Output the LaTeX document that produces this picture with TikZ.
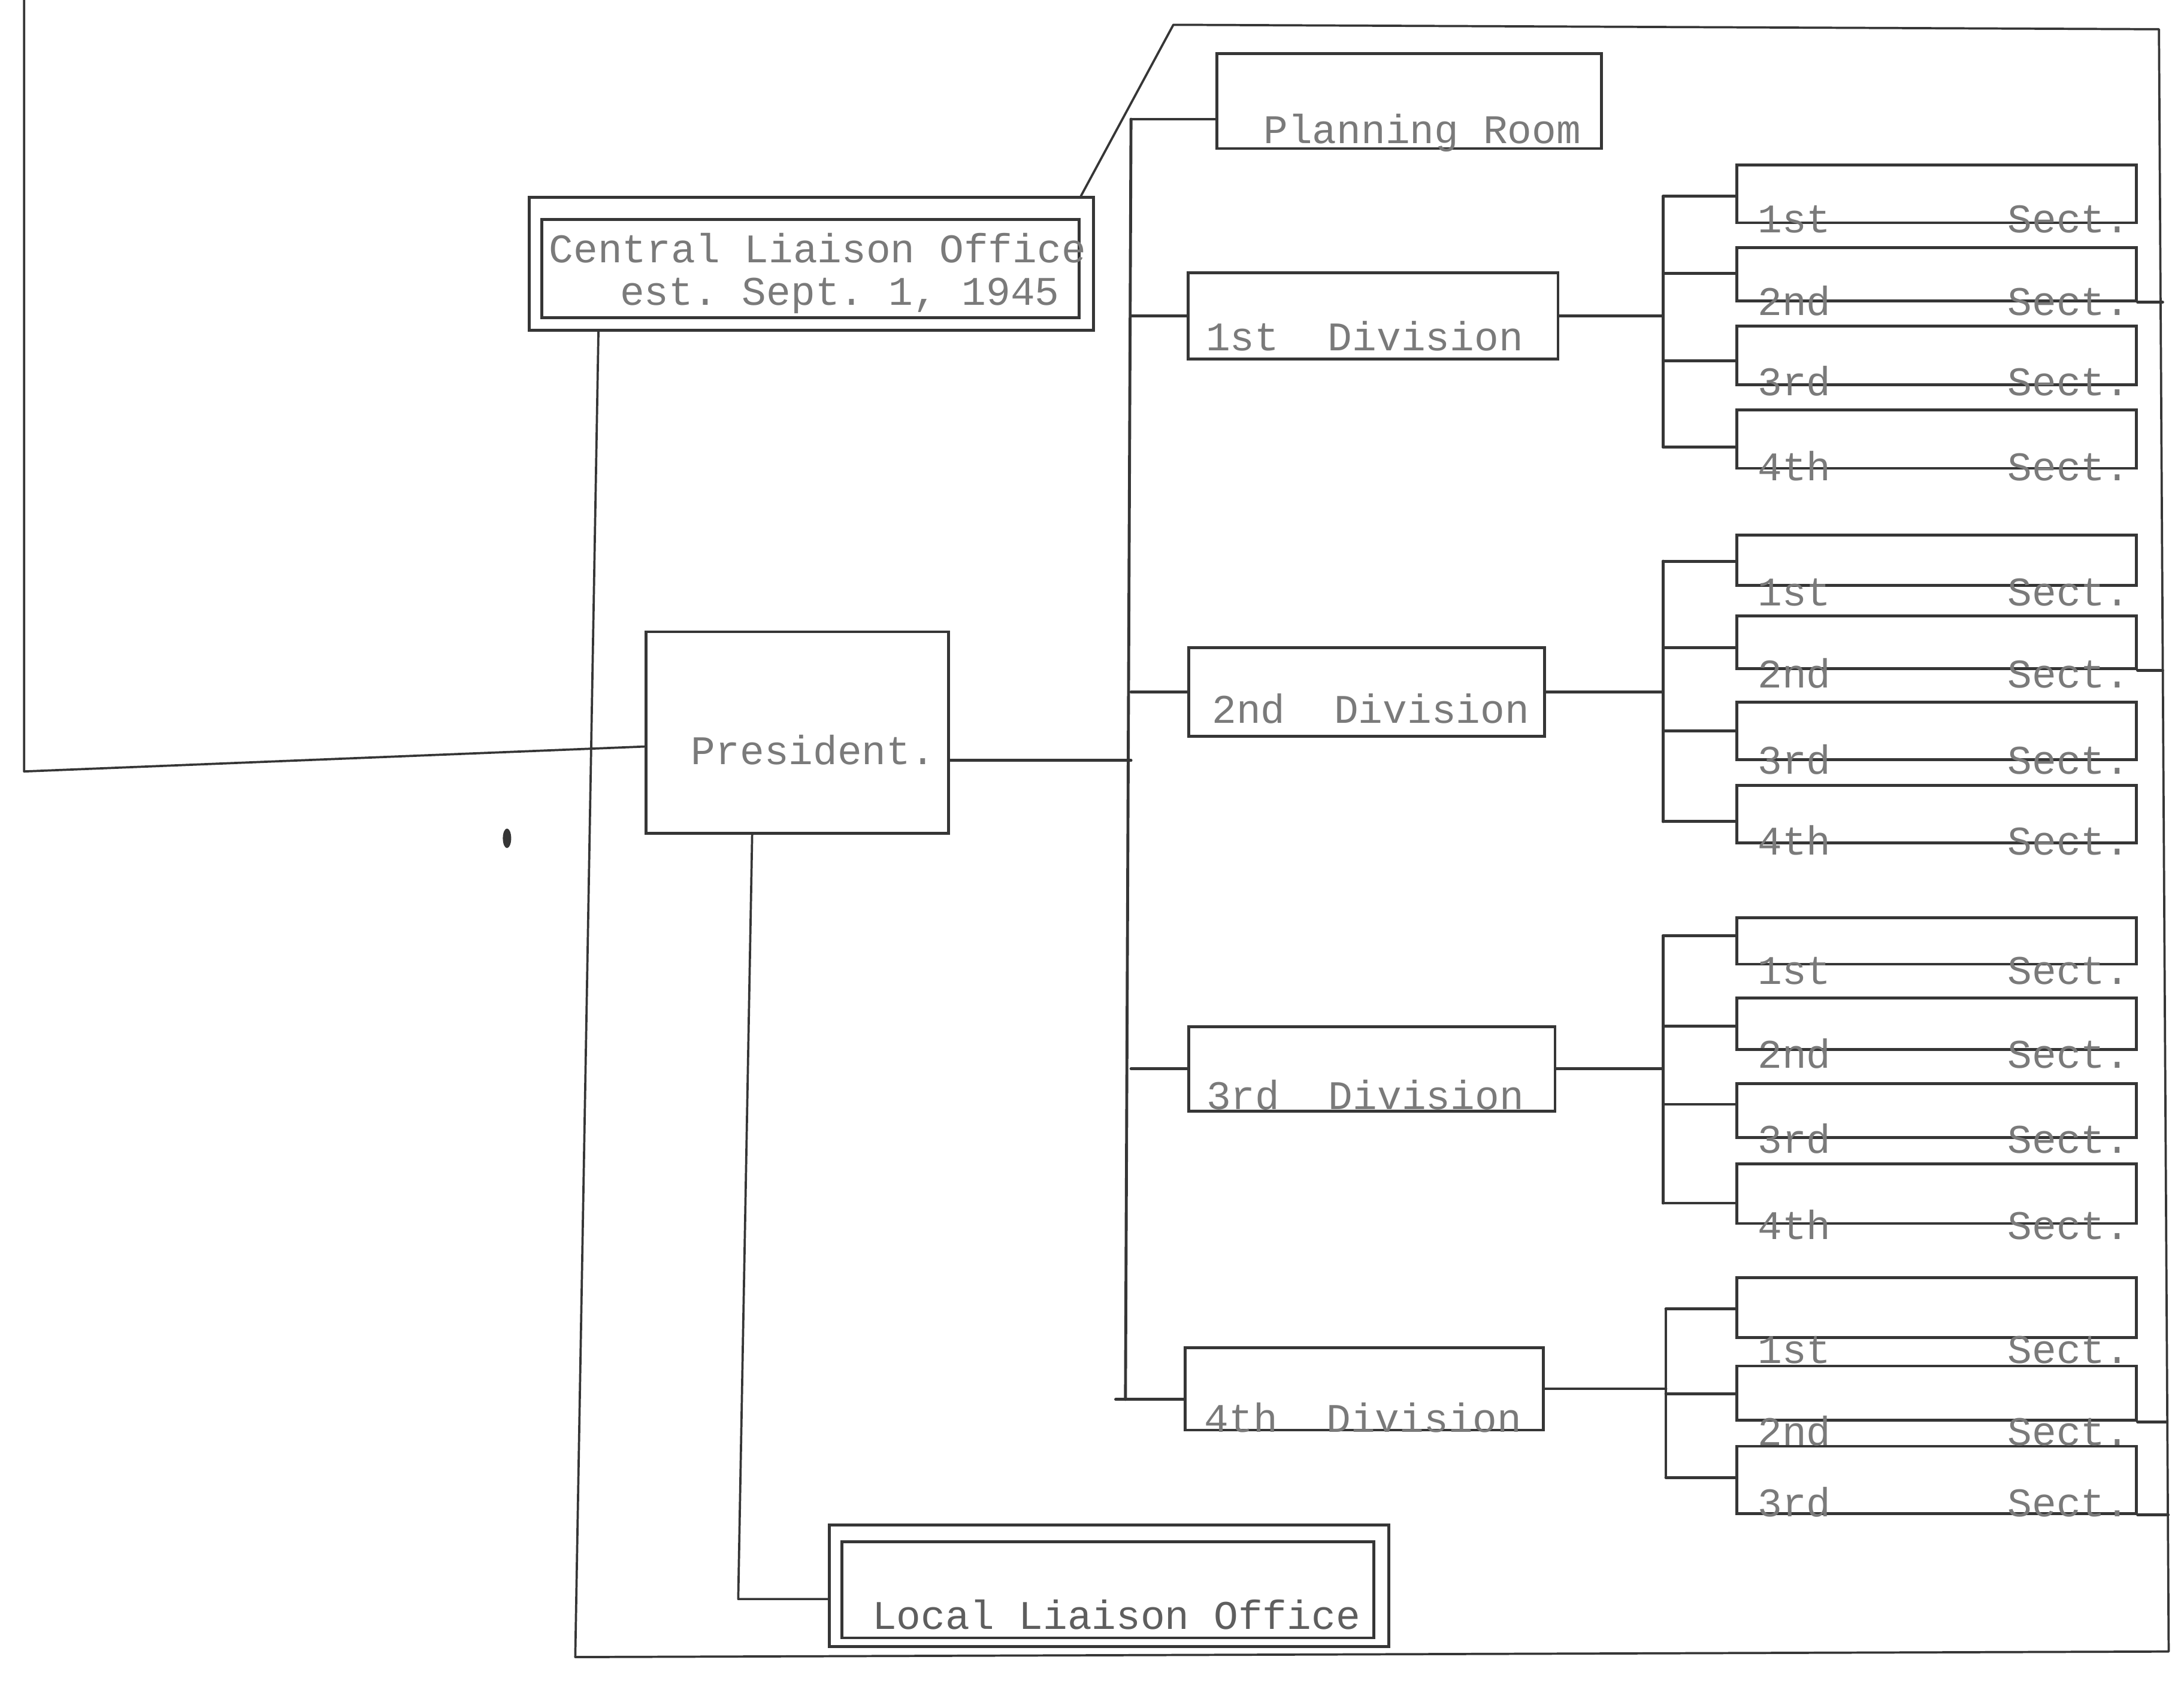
\documentclass[tikz,border=0pt]{standalone}
\usepackage{fontspec}
\setmonofont{Liberation Mono}
\usetikzlibrary{calc}
\definecolor{ink}{HTML}{363636}
\definecolor{typeink}{HTML}{7A7A7A}
\tikzset{
  ln/.style={draw=ink, line width=2.1pt, line cap=round, line join=round},
  bx/.style={draw=ink, line width=2.1pt, rectangle, inner sep=0pt},
  secbox/.style={bx, minimum width=286.6pt},
  tt/.style={text=typeink, font={\ttfamily\fontsize{29.2pt}{30.5pt}\selectfont}, inner sep=0pt},
  sectxt/.style={tt, anchor=base},
}
\newcommand{\secline}[1]{\makebox[267pt]{#1\hfill Sect.}}
\begin{document}
\begin{tikzpicture}[x=1pt,y=-1pt]
\useasboundingbox (0,0) rectangle (1568,1207);
\fill[white] (0,0) rectangle (1568,1207);

% ---------- Central Liaison Office ----------
\node[bx, minimum width=405pt, minimum height=95.2pt] (cloout) at (582.5,189.4) {};
\node[bx, minimum width=385.6pt, minimum height=70.4pt] (cloin) at (581.8,193) {};
\node[tt, anchor=base west] (clotxta) at (394,188.5) {Central Liaison Office};
\node[tt, anchor=base west] (clotxtb) at (445,219) {est. Sept. 1, 1945};

% ---------- Planning Room ----------
\node[bx, minimum width=276.3pt, minimum height=68.3pt] (plan) at (1011.7,72.5) {};
\node[tt, anchor=base west] (plantxt) at (907,103) {Planning Room};

% ---------- President ----------
\node[bx, minimum width=217pt, minimum height=144.8pt] (pres) at (572.5,526.1) {};
\node[tt, anchor=base west] (prestxt) at (496,549) {President.};

% ---------- Local Liaison Office ----------
\node[bx, minimum width=401.5pt, minimum height=87.4pt] (lloout) at (796.3,1138.9) {};
\node[bx, minimum width=381.9pt, minimum height=69.2pt] (lloin) at (795.3,1141.6) {};
\node[tt, anchor=base west, text=ink!80] (llotxt) at (626,1170) {Local Liaison Office};

% ---------- Divisions ----------
\node[bx, minimum width=265.7pt, minimum height=61.7pt] (d1) at (985.7,226.9) {};
\node[tt, anchor=base west] (d1txt) at (865.6,252) {1st~~Division};
\node[bx, minimum width=255.4pt, minimum height=63.6pt] (d2) at (981.3,497) {};
\node[tt, anchor=base west] (d2txt) at (870,519.5) {2nd~~Division};
\node[bx, minimum width=262.8pt, minimum height=60.6pt] (d3) at (985,767.5) {};
\node[tt, anchor=base west] (d3txt) at (866,796.5) {3rd~~Division};
\node[bx, minimum width=257pt, minimum height=59.3pt] (d4) at (979.5,997.3) {};
\node[tt, anchor=base west] (d4txt) at (864.5,1028.5) {4th~~Division};

% ---------- Sections, group 1 ----------
\node[secbox, minimum height=41.4pt] (s11) at (1390.3,139.3) {};
\node[secbox, minimum height=38pt]   (s12) at (1390.3,197) {};
\node[secbox, minimum height=42.2pt] (s13) at (1390.3,255.3) {};
\node[secbox, minimum height=41.8pt] (s14) at (1390.3,315.4) {};
\node[sectxt] (t11) at (1395.5,167) {\secline{1st}};
\node[sectxt] (t12) at (1395.5,226.6) {\secline{2nd}};
\node[sectxt] (t13) at (1395.5,284) {\secline{3rd}};
\node[sectxt] (t14) at (1395.5,345) {\secline{4th}};

% ---------- Sections, group 2 ----------
\node[secbox, minimum height=36pt]   (s21) at (1390.3,402.3) {};
\node[secbox, minimum height=37.8pt] (s22) at (1390.3,461.4) {};
\node[secbox, minimum height=41.1pt] (s23) at (1390.3,524.9) {};
\node[secbox, minimum height=41.2pt] (s24) at (1390.3,584.8) {};
\node[sectxt] (t21) at (1395.5,435) {\secline{1st}};
\node[sectxt] (t22) at (1395.5,494) {\secline{2nd}};
\node[sectxt] (t23) at (1395.5,556) {\secline{3rd}};
\node[sectxt] (t24) at (1395.5,614) {\secline{4th}};

% ---------- Sections, group 3 ----------
\node[secbox, minimum height=33.4pt] (s31) at (1390.3,675.7) {};
\node[secbox, minimum height=37.1pt] (s32) at (1390.3,735.3) {};
\node[secbox, minimum height=39pt]   (s33) at (1390.3,797.5) {};
\node[secbox, minimum height=42.8pt] (s34) at (1390.3,857.2) {};
\node[sectxt] (t31) at (1395.5,707) {\secline{1st}};
\node[sectxt] (t32) at (1395.5,767) {\secline{2nd}};
\node[sectxt] (t33) at (1395.5,828) {\secline{3rd}};
\node[sectxt] (t34) at (1395.5,890) {\secline{4th}};

% ---------- Sections, group 4 ----------
\node[secbox, minimum height=42.8pt] (s41) at (1390.3,939) {};
\node[secbox, minimum height=39.1pt] (s42) at (1390.3,1000.5) {};
\node[secbox, minimum height=48.2pt] (s43) at (1390.3,1062.7) {};
\node[sectxt] (t41) at (1395.5,979) {\secline{1st}};
\node[sectxt] (t42) at (1395.5,1038) {\secline{2nd}};
\node[sectxt] (t43) at (1395.5,1089) {\secline{3rd}};

% ---------- coordinates ----------
\coordinate (ftl) at (17.3,0);
\coordinate (fbl) at (17.3,554);
\coordinate (fa) at (842.4,17.8);
\coordinate (fb) at (1550,21);
\coordinate (fc) at (1557,1186);
\coordinate (fd) at (413,1190);
\coordinate (trtop) at (812,85.6);
\coordinate (trbot) at (808,1005);
\coordinate (trstub) at (801,1005);
\coordinate (lc) at (530,1148.3);

\coordinate (g1a) at (1194,141);   \coordinate (g1b) at (1194,196.5);
\coordinate (g1c) at (1194,259);   \coordinate (g1d) at (1194,321);
\coordinate (g2a) at (1194,403);   \coordinate (g2b) at (1194,465);
\coordinate (g2c) at (1194,525);   \coordinate (g2d) at (1194,590);
\coordinate (g3a) at (1194,672);   \coordinate (g3b) at (1194,737);
\coordinate (g3c) at (1194,793);   \coordinate (g3d) at (1194,864);
\coordinate (g4a) at (1196,940);   \coordinate (g4b) at (1196,1001);
\coordinate (g4c) at (1196,1061);

% ---------- outer lines ----------
\draw[ln, line width=1.6pt] (ftl) -- (fbl) -- ([yshift=-10pt]pres.west);
\draw[ln, line width=1.6pt] ([xshift=-10pt]cloout.north east) -- (fa) -- (fb) -- (fc) -- (fd)
          -- ($(cloout.south west)+(50.7,0)$);

% ---------- trunk ----------
\draw[ln] (trtop) -- (trbot);
\draw[ln] (trtop) -- (trtop -| plan.west);
\draw[ln] (d1.west) -- (d1.west -| trtop);
\draw[ln] (d2.west) -- (d2.west -| trtop);
\draw[ln] (d3.west) -- (d3.west -| trtop);
\draw[ln] (trstub) -- (trstub -| d4.west);
\draw[ln] ([yshift=-20pt]pres.east) -- ([yshift=-20pt]pres.east -| trtop);

% ---------- Local Liaison connector ----------
\draw[ln, line width=1.6pt] ([xshift=-32.5pt]pres.south) -- (lc) -- (lc -| lloout.west);

% ---------- division to section brackets ----------
\draw[ln] (d1.east) -- (d1.east -| g1a);
\draw[ln] (g1a) -- (g1d);
\draw[ln] (g1a) -- (g1a -| s11.west);
\draw[ln] (g1b) -- (g1b -| s12.west);
\draw[ln] (g1c) -- (g1c -| s13.west);
\draw[ln] (g1d) -- (g1d -| s14.west);

\draw[ln] (d2.east) -- (d2.east -| g2a);
\draw[ln] (g2a) -- (g2d);
\draw[ln] (g2a) -- (g2a -| s21.west);
\draw[ln] (g2b) -- (g2b -| s22.west);
\draw[ln] (g2c) -- (g2c -| s23.west);
\draw[ln] (g2d) -- (g2d -| s24.west);

\draw[ln] (d3.east) -- (d3.east -| g3a);
\draw[ln] (g3a) -- (g3d);
\draw[ln] (g3a) -- (g3a -| s31.west);
\draw[ln] (g3b) -- (g3b -| s32.west);
\draw[ln] (g3c) -- (g3c -| s33.west);
\draw[ln] (g3d) -- (g3d -| s34.west);

\draw[ln] (d4.east) -- (d4.east -| g4a);
\draw[ln] (g4a) -- (g4c);
\draw[ln] (g4a) -- (g4a -| s41.west);
\draw[ln] (g4b) -- (g4b -| s42.west);
\draw[ln] (g4c) -- (g4c -| s43.west);

% ---------- stubs to the frame ----------
\draw[ln] (s12.south east) -- ++(18,0);
\draw[ln] (s22.south east) -- ++(18,0);
\draw[ln] (s42.south east) -- ++(21,0);
\draw[ln] (s43.south east) -- ++(22,0);

% ink blot
\fill[ink] (364,602) ellipse (3 and 7);
\end{tikzpicture}
\end{document}
